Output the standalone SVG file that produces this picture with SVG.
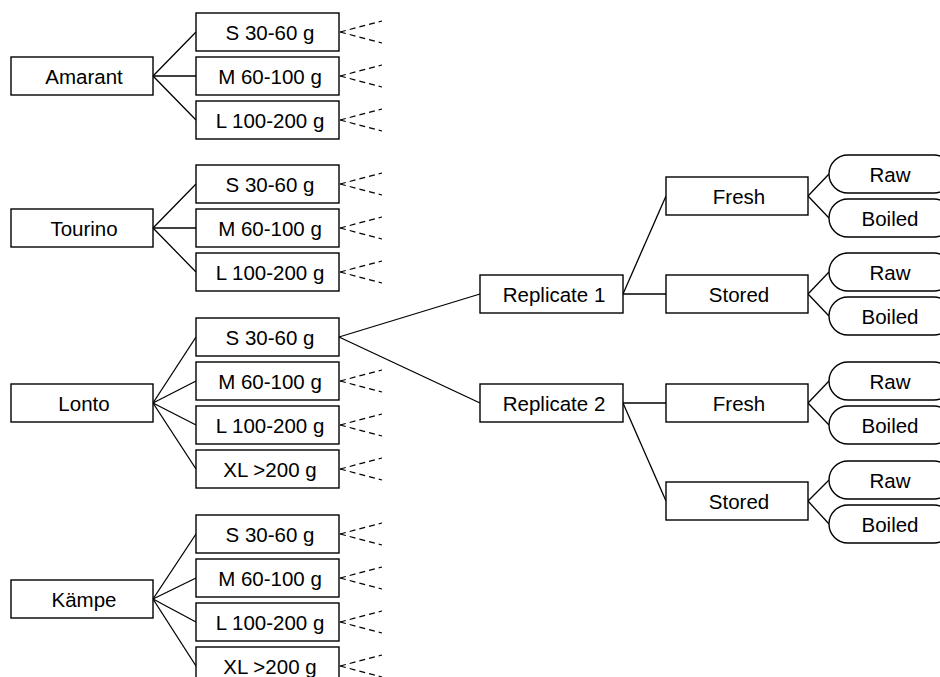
<svg xmlns="http://www.w3.org/2000/svg" width="940" height="677" viewBox="0 0 940 677">
<style>
rect{fill:#fff;stroke:#000;stroke-width:1.4}
text{font-family:"Liberation Sans",Arial,sans-serif;font-size:20.5px;fill:#000;text-anchor:middle}
.c line{stroke:#000;stroke-width:1.3}
.d line{stroke:#000;stroke-width:1.2;stroke-dasharray:6,4}
</style>
<rect x="0" y="0" width="940" height="677" style="fill:#fff;stroke:none"/>
<g class="c" id="connectors">
<line x1="153" y1="76" x2="196" y2="32"/><line x1="153" y1="76" x2="196" y2="76"/><line x1="153" y1="76" x2="196" y2="120"/>
<line x1="153" y1="228" x2="196" y2="184"/><line x1="153" y1="228" x2="196" y2="228"/><line x1="153" y1="228" x2="196" y2="272"/>
<line x1="153" y1="403" x2="196" y2="337"/><line x1="153" y1="403" x2="196" y2="381"/><line x1="153" y1="403" x2="196" y2="425"/><line x1="153" y1="403" x2="196" y2="469"/>
<line x1="153" y1="599" x2="196" y2="534"/><line x1="153" y1="599" x2="196" y2="578"/><line x1="153" y1="599" x2="196" y2="622"/><line x1="153" y1="599" x2="196" y2="666"/>
<line x1="339" y1="337" x2="480" y2="294"/><line x1="339" y1="337" x2="480" y2="403"/>
<line x1="623" y1="294" x2="666" y2="196"/><line x1="623" y1="294" x2="666" y2="294"/>
<line x1="623" y1="403" x2="666" y2="403"/><line x1="623" y1="403" x2="666" y2="501"/>
<line x1="808" y1="196" x2="829" y2="174"/><line x1="808" y1="196" x2="829" y2="218"/>
<line x1="808" y1="294" x2="829" y2="272"/><line x1="808" y1="294" x2="829" y2="316"/>
<line x1="808" y1="403" x2="829" y2="381"/><line x1="808" y1="403" x2="829" y2="425"/>
<line x1="808" y1="501" x2="829" y2="480"/><line x1="808" y1="501" x2="829" y2="524"/>
</g>
<g class="d" id="dashed-connectors">
<line x1="340" y1="32" x2="382" y2="21"/><line x1="340" y1="32" x2="382" y2="43"/>
<line x1="340" y1="76" x2="382" y2="65"/><line x1="340" y1="76" x2="382" y2="87"/>
<line x1="340" y1="120" x2="382" y2="109"/><line x1="340" y1="120" x2="382" y2="131"/>
<line x1="340" y1="184" x2="382" y2="173"/><line x1="340" y1="184" x2="382" y2="195"/>
<line x1="340" y1="228" x2="382" y2="217"/><line x1="340" y1="228" x2="382" y2="239"/>
<line x1="340" y1="272" x2="382" y2="261"/><line x1="340" y1="272" x2="382" y2="283"/>
<line x1="340" y1="381" x2="382" y2="370"/><line x1="340" y1="381" x2="382" y2="392"/>
<line x1="340" y1="425" x2="382" y2="414"/><line x1="340" y1="425" x2="382" y2="436"/>
<line x1="340" y1="469" x2="382" y2="458"/><line x1="340" y1="469" x2="382" y2="480"/>
<line x1="340" y1="534" x2="382" y2="523"/><line x1="340" y1="534" x2="382" y2="545"/>
<line x1="340" y1="578" x2="382" y2="567"/><line x1="340" y1="578" x2="382" y2="589"/>
<line x1="340" y1="622" x2="382" y2="611"/><line x1="340" y1="622" x2="382" y2="633"/>
<line x1="340" y1="666" x2="382" y2="655"/><line x1="340" y1="666" x2="382" y2="677"/>
</g>
<g id="amarant"><rect x="11" y="57" width="142" height="38"/><text x="84" y="83.5">Amarant</text></g>
<g id="amarant-s"><rect x="196" y="13" width="143" height="38"/><text x="270" y="39.5">S 30-60 g</text></g>
<g id="amarant-m"><rect x="196" y="57" width="143" height="38"/><text x="270" y="83.5">M 60-100 g</text></g>
<g id="amarant-l"><rect x="196" y="101" width="143" height="38"/><text x="270" y="127.5">L 100-200 g</text></g>
<g id="tourino"><rect x="11" y="209" width="142" height="38"/><text x="84" y="235.5">Tourino</text></g>
<g id="tourino-s"><rect x="196" y="165" width="143" height="38"/><text x="270" y="191.5">S 30-60 g</text></g>
<g id="tourino-m"><rect x="196" y="209" width="143" height="38"/><text x="270" y="235.5">M 60-100 g</text></g>
<g id="tourino-l"><rect x="196" y="253" width="143" height="38"/><text x="270" y="279.5">L 100-200 g</text></g>
<g id="lonto"><rect x="11" y="384" width="142" height="38"/><text x="84" y="410.5">Lonto</text></g>
<g id="lonto-s"><rect x="196" y="318" width="143" height="38"/><text x="270" y="344.5">S 30-60 g</text></g>
<g id="lonto-m"><rect x="196" y="362" width="143" height="38"/><text x="270" y="388.5">M 60-100 g</text></g>
<g id="lonto-l"><rect x="196" y="406" width="143" height="38"/><text x="270" y="432.5">L 100-200 g</text></g>
<g id="lonto-xl"><rect x="196" y="450" width="143" height="38"/><text x="270" y="476.5">XL &gt;200 g</text></g>
<g id="kampe"><rect x="11" y="580" width="142" height="38"/><text x="84" y="606.5">Kämpe</text></g>
<g id="kampe-s"><rect x="196" y="515" width="143" height="38"/><text x="270" y="541.5">S 30-60 g</text></g>
<g id="kampe-m"><rect x="196" y="559" width="143" height="38"/><text x="270" y="585.5">M 60-100 g</text></g>
<g id="kampe-l"><rect x="196" y="603" width="143" height="38"/><text x="270" y="629.5">L 100-200 g</text></g>
<g id="kampe-xl"><rect x="196" y="647" width="143" height="38"/><text x="270" y="673.5">XL &gt;200 g</text></g>
<g id="rep1"><rect x="480" y="275" width="143" height="38"/><text x="554" y="301.5">Replicate 1</text></g>
<g id="rep2"><rect x="480" y="384" width="143" height="38"/><text x="554" y="410.5">Replicate 2</text></g>
<g id="fresh1"><rect x="666" y="177" width="142" height="38"/><text x="739" y="203.5">Fresh</text></g>
<g id="stored1"><rect x="666" y="275" width="142" height="38"/><text x="739" y="301.5">Stored</text></g>
<g id="fresh2"><rect x="666" y="384" width="142" height="38"/><text x="739" y="410.5">Fresh</text></g>
<g id="stored2"><rect x="666" y="482" width="142" height="38"/><text x="739" y="508.5">Stored</text></g>
<g id="f1-raw"><rect x="829" y="155" width="124" height="38" rx="19"/><text x="890" y="181.5">Raw</text></g>
<g id="f1-boiled"><rect x="829" y="199" width="124" height="38" rx="19"/><text x="890" y="225.5">Boiled</text></g>
<g id="s1-raw"><rect x="829" y="253" width="124" height="38" rx="19"/><text x="890" y="279.5">Raw</text></g>
<g id="s1-boiled"><rect x="829" y="297" width="124" height="38" rx="19"/><text x="890" y="323.5">Boiled</text></g>
<g id="f2-raw"><rect x="829" y="362" width="124" height="38" rx="19"/><text x="890" y="388.5">Raw</text></g>
<g id="f2-boiled"><rect x="829" y="406" width="124" height="38" rx="19"/><text x="890" y="432.5">Boiled</text></g>
<g id="s2-raw"><rect x="829" y="461" width="124" height="38" rx="19"/><text x="890" y="487.5">Raw</text></g>
<g id="s2-boiled"><rect x="829" y="505" width="124" height="38" rx="19"/><text x="890" y="531.5">Boiled</text></g>
</svg>
